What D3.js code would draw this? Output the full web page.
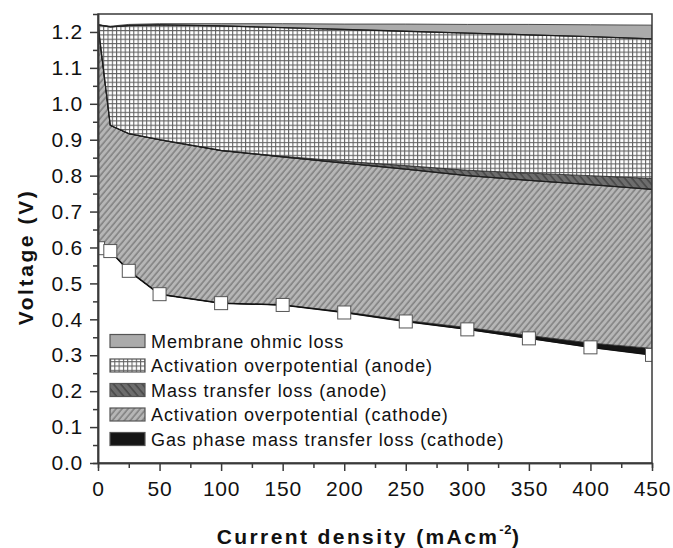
<!DOCTYPE html>
<html lang="en">
<head>
<meta charset="UTF-8">
<title>Voltage losses</title>
<script src="https://cdn.jsdelivr.net/npm/d3@7/dist/d3.min.js"></script>
<style>
  body { margin: 0; background: #fff; }
  svg text { font-family: "Liberation Sans", Arial, sans-serif; fill: #111; }
</style>
</head>
<body>
<div id="chart"></div>
<script>
// current density (mA/cm2)
var current = [0, 10, 25, 50, 100, 150, 200, 250, 300, 350, 400, 450];
// measured cell voltage (V), white squares
var cellVoltage = [0.598, 0.590, 0.535, 0.470, 0.445, 0.440, 0.419, 0.394, 0.372, 0.347, 0.322, 0.301];
// losses (V), stacked from the cell voltage upwards
var gasLoss      = [0, 0, 0, 0, 0, 0, 0.002, 0.003, 0.005, 0.008, 0.012, 0.018];
var cathodeAct   = [0.622, 0.350, 0.382, 0.430, 0.425, 0.412, 0.414, 0.421, 0.423, 0.432, 0.441, 0.443];
var anodeMass    = [0, 0, 0, 0, 0, 0.002, 0.005, 0.010, 0.015, 0.020, 0.025, 0.030];
var anodeAct     = [0, 0.274, 0.301, 0.320, 0.347, 0.358, 0.367, 0.374, 0.382, 0.385, 0.387, 0.389];
var membraneLoss = [0, 0.002, 0.003, 0.003, 0.006, 0.011, 0.015, 0.020, 0.024, 0.029, 0.033, 0.038];

var legendLabels = [
  "Membrane ohmic loss",
  "Activation overpotential (anode)",
  "Mass transfer loss (anode)",
  "Activation overpotential  (cathode)",
  "Gas phase mass transfer loss (cathode)"
];
var xTicks = [0, 50, 100, 150, 200, 250, 300, 350, 400, 450];
var yTicks = [0, 0.1, 0.2, 0.3, 0.4, 0.5, 0.6, 0.7, 0.8, 0.9, 1.0, 1.1, 1.2];

var width = 673, height = 548;
var margin = {left: 98, top: 14, right: 21, bottom: 85};

var svg = d3.select("#chart").append("svg").attr("width", width).attr("height", height);

var x = d3.scaleLinear().domain([0, 450]).range([margin.left, width - margin.right]);
var y = d3.scaleLinear().domain([0, 1.25]).range([height - margin.bottom, margin.top]);

// fill patterns
var defs = svg.append("defs");

var grid = defs.append("pattern").attr("id", "grid")
  .attr("patternUnits", "userSpaceOnUse").attr("width", 4.3).attr("height", 4.3);
grid.append("rect").attr("width", 4.3).attr("height", 4.3).attr("fill", "#fff");
grid.append("path").attr("d", "M0,0.5H4.3M0.5,0V4.3").attr("stroke", "#606060").attr("stroke-width", 1.1);

var hatch = defs.append("pattern").attr("id", "hatchCathode")
  .attr("patternUnits", "userSpaceOnUse").attr("width", 4.6).attr("height", 10)
  .attr("patternTransform", "rotate(40)");
hatch.append("rect").attr("width", 4.6).attr("height", 10).attr("fill", "#b6b6b6");
hatch.append("line").attr("x1", 1).attr("x2", 1).attr("y1", 0).attr("y2", 10)
  .attr("stroke", "#6a6a6a").attr("stroke-width", 1.1);

var hatch2 = defs.append("pattern").attr("id", "hatchAnode")
  .attr("patternUnits", "userSpaceOnUse").attr("width", 5.5).attr("height", 10)
  .attr("patternTransform", "rotate(-40)");
hatch2.append("rect").attr("width", 5.5).attr("height", 10).attr("fill", "#6d6d6d");
hatch2.append("line").attr("x1", 1).attr("x2", 1).attr("y1", 0).attr("y2", 10)
  .attr("stroke", "#3c3c3c").attr("stroke-width", 1.2);

defs.append("clipPath").attr("id", "plotClip").append("rect")
  .attr("x", x(0)).attr("y", y(1.25)).attr("width", x(450) - x(0)).attr("height", y(0) - y(1.25));

// stack the losses on top of the cell voltage
var rows = current.map(function (c, i) {
  return {j: c, cell: cellVoltage[i], gas: gasLoss[i], cathode: cathodeAct[i],
          mass: anodeMass[i], anode: anodeAct[i], membrane: membraneLoss[i]};
});
var keys = ["cell", "gas", "cathode", "mass", "anode", "membrane"];
var fills = {gas: "#151515", cathode: "url(#hatchCathode)", mass: "url(#hatchAnode)",
             anode: "url(#grid)", membrane: "#ababab"};
var layers = d3.stack().keys(keys)(rows);

var area = d3.area()
  .x(function (d) { return x(d.data.j); })
  .y0(function (d) { return y(d[0]); })
  .y1(function (d) { return y(d[1]); });

var plot = svg.append("g").attr("clip-path", "url(#plotClip)");

plot.selectAll("path.layer").data(layers.filter(function (l) { return l.key !== "cell"; }))
  .enter().append("path")
  .attr("class", "layer")
  .attr("d", area)
  .attr("fill", function (l) { return fills[l.key]; })
  .attr("stroke", "#2a2a2a")
  .attr("stroke-width", 0.8);

// top edge of each boundary as a darker line
var edge = d3.line()
  .x(function (d) { return x(d.data.j); })
  .y(function (d) { return y(d[1]); });
plot.selectAll("path.edge").data(layers.filter(function (l) { return l.key === "cathode" || l.key === "anode"; }))
  .enter().append("path")
  .attr("class", "edge")
  .attr("d", edge)
  .attr("fill", "none")
  .attr("stroke", "#1e1e1e")
  .attr("stroke-width", 1.3);

// cell voltage line and markers
var cellLine = d3.line()
  .x(function (d, i) { return x(current[i]); })
  .y(function (d) { return y(d); });
plot.append("path").attr("d", cellLine(cellVoltage))
  .attr("fill", "none").attr("stroke", "#111").attr("stroke-width", 1.5);

plot.selectAll("rect.marker").data(cellVoltage).enter().append("rect")
  .attr("class", "marker")
  .attr("x", function (d, i) { return x(current[i]) - 6.5; })
  .attr("y", function (d) { return y(d) - 6.5; })
  .attr("width", 13).attr("height", 13)
  .attr("fill", "#fff").attr("stroke", "#555").attr("stroke-width", 1);

// frame
svg.append("rect")
  .attr("x", x(0)).attr("y", y(1.25)).attr("width", x(450) - x(0)).attr("height", y(0) - y(1.25))
  .attr("fill", "none").attr("stroke", "#3a3a3a").attr("stroke-width", 1.5);

// axes
var xAxis = d3.axisBottom(x).tickValues(xTicks).tickSize(8).tickSizeOuter(0).tickPadding(10);
var xMinor = d3.axisBottom(x).tickValues(d3.range(25, 450, 50)).tickSize(5).tickFormat("");
var yAxis = d3.axisLeft(y).tickValues(yTicks).tickSize(8).tickSizeOuter(0).tickPadding(7)
  .tickFormat(d3.format(".1f"));
var yMinor = d3.axisLeft(y).tickValues(d3.range(0.05, 1.25, 0.1)).tickSize(5).tickFormat("");

[[xAxis, "x"], [xMinor, "x"], [yAxis, "y"], [yMinor, "y"]].forEach(function (a) {
  var g = svg.append("g")
    .attr("transform", a[1] === "x" ? "translate(0," + y(0) + ")" : "translate(" + x(0) + ",0)")
    .call(a[0]);
  g.select(".domain").attr("stroke", "#3a3a3a").attr("stroke-width", 1.5);
  g.selectAll(".tick line").attr("stroke", "#3a3a3a").attr("stroke-width", 1.5);
  g.selectAll(".tick text").attr("font-size", 21).attr("letter-spacing", 0.8)
    .attr("font-family", "Liberation Sans, Arial, sans-serif").attr("fill", "#111");
});

// axis titles
var xt = svg.append("text")
  .attr("x", 369).attr("y", 544)
  .attr("text-anchor", "middle")
  .attr("font-size", 21).attr("font-weight", "bold").attr("letter-spacing", 2.4);
xt.append("tspan").text("Current density (mAcm");
xt.append("tspan").attr("font-size", 13).attr("dy", -10).attr("letter-spacing", 0.5).text("-2");
xt.append("tspan").attr("dy", 10).text(")");

svg.append("text")
  .attr("transform", "translate(33,257) rotate(-90)")
  .attr("text-anchor", "middle")
  .attr("font-size", 21).attr("font-weight", "bold").attr("letter-spacing", 2.6)
  .text("Voltage (V)");

// legend
var legendFills = ["#ababab", "url(#grid)", "url(#hatchAnode)", "url(#hatchCathode)", "#151515"];
var legend = svg.append("g");
var items = legend.selectAll("g").data(legendLabels).enter().append("g")
  .attr("transform", function (d, i) { return "translate(110," + (341 + i * 24.5) + ")"; });
items.append("rect")
  .attr("x", 0).attr("y", -6.5).attr("width", 35).attr("height", 13)
  .attr("fill", function (d, i) { return legendFills[i]; })
  .attr("stroke", "#555").attr("stroke-width", 1.2);
items.append("text")
  .attr("x", 41).attr("y", 6.5)
  .attr("font-size", 18).attr("letter-spacing", 0.9)
  .text(function (d) { return d; });
</script>
</body>
</html>
